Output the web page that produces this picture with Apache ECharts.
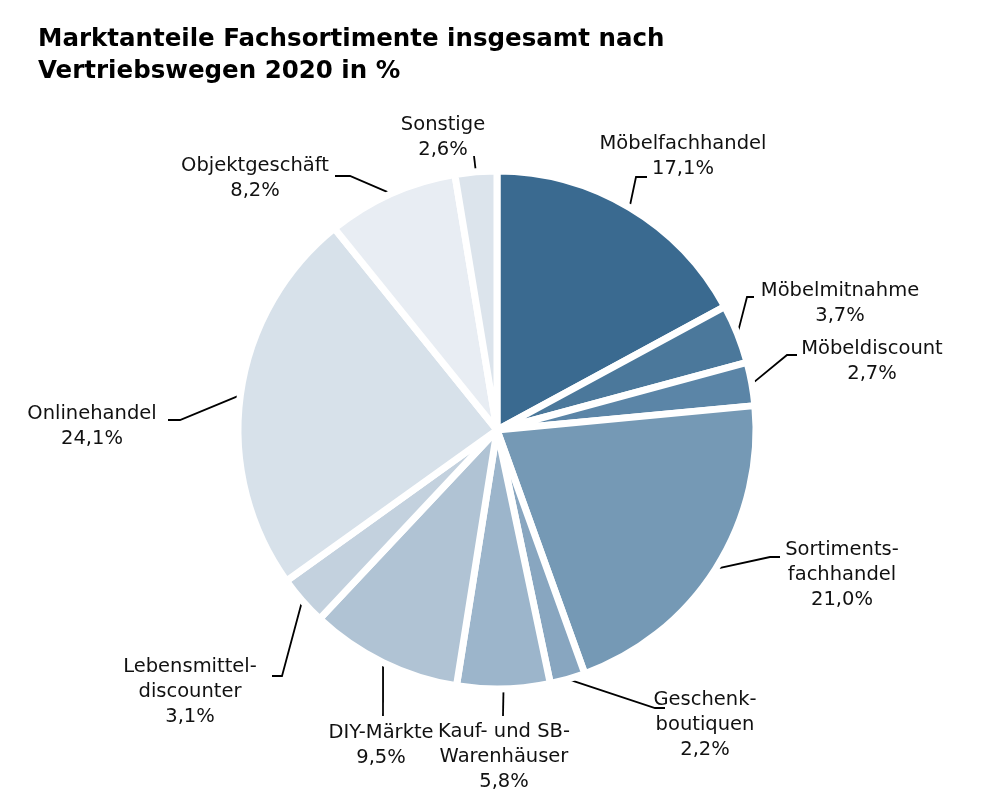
<!DOCTYPE html>
<html><head><meta charset="utf-8">
<script src="https://cdn.jsdelivr.net/npm/echarts@6/dist/echarts.min.js"></script>
<style>html,body{margin:0;padding:0;background:#fff}#c{width:1000px;height:806px}</style>
</head><body><div id="c"></div>
<script>
const categories = ['Möbelfachhandel','Möbelmitnahme','Möbeldiscount','Sortiments-\nfachhandel','Geschenk-\nboutiquen','Kauf- und SB-\nWarenhäuser','DIY-Märkte','Lebensmittel-\ndiscounter','Onlinehandel','Objektgeschäft','Sonstige'];
const values = [17.1, 3.7, 2.7, 21.0, 2.2, 5.8, 9.5, 3.1, 24.1, 8.2, 2.6];
const colors = ['#3a6a90','#4b789b','#5b85a7','#7599b5','#88a6c0','#9cb5cb','#b0c3d4','#c3d1de','#d7e1ea','#e8edf3','#dce4ec'];
// label layout: text centre, elbow point, line end
const labelPos = [
  {x:683,y:156, e:[636,177], t:[647,177]},
  {x:840,y:303, e:[747,297], t:[754,297]},
  {x:872,y:361, e:[787,355], t:[797,355]},
  {x:842,y:575, e:[770,557], t:[780,557]},
  {x:705,y:725, e:[655,708], t:[665,708]},
  {x:504,y:757, e:[503,716], t:[503,716]},
  {x:381,y:745, e:[383,716], t:[383,716]},
  {x:190,y:692, e:[282,676], t:[272,676]},
  {x:92,y:426, e:[180,420], t:[168,420]},
  {x:255,y:178, e:[350,176], t:[335,176]},
  {x:443,y:137, e:[474,156], t:[474,156]}
];
const fmt = v => v.toFixed(1).replace('.', ',') + '%';
const chart = echarts.init(document.getElementById('c'));
chart.setOption({
  animation:false,
  title:{text:'Marktanteile Fachsortimente insgesamt nach\nVertriebswegen 2020 in %',left:33,top:19,
    textStyle:{fontFamily:'DejaVu Sans',fontWeight:'bold',fontSize:24.5,lineHeight:32,color:'#000'}},
  series:[{
    type:'pie',
    center:[497,430],
    radius:[0,259],
    startAngle:90,
    clockwise:true,
    data:categories.map((c,i)=>({name:c,value:values[i],itemStyle:{color:colors[i]}})),
    itemStyle:{borderColor:'#fff',borderWidth:7},
    label:{show:true,position:'outside',formatter:p=>p.name+'\n'+fmt(p.value),
      fontFamily:'DejaVu Sans',fontSize:19.5,lineHeight:25,color:'#111',align:'center'},
    labelLine:{show:true,length:20,length2:10,lineStyle:{color:'#000',width:1.8}},
    labelLayout:function(p){
      const L = labelPos[p.dataIndex];
      const s = p.labelLinePoints ? p.labelLinePoints[0] : L.e;
      return {x:L.x,y:L.y,align:'center',verticalAlign:'middle',
        labelLinePoints:[s,L.e,L.t]};
    }
  }]
});
</script></body></html>
